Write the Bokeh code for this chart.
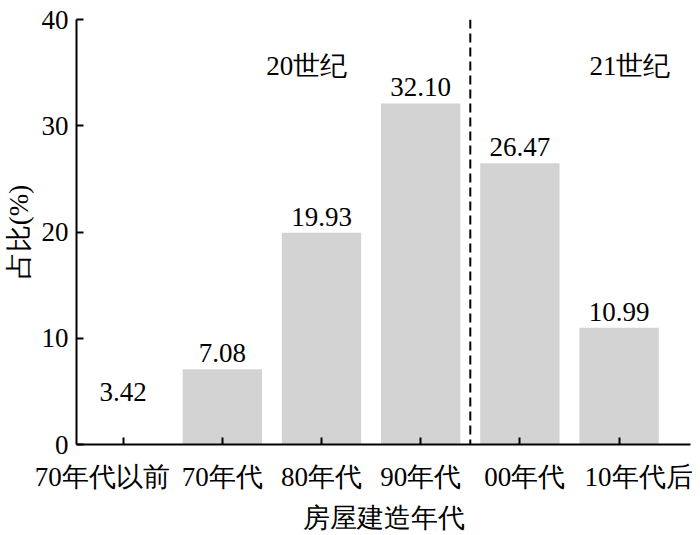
from bokeh.plotting import figure
from bokeh.models import Span, FixedTicker, ColumnDataSource, Label, LinearAxis
from bokeh.core.properties import value
from bokeh.embed import file_html
from bokeh.resources import INLINE

categories = ["70年代以前", "70年代", "80年代", "90年代", "00年代", "10年代后"]
shares = [3.42, 7.08, 19.93, 32.10, 26.47, 10.99]
bar_colors = ["#ffffff", "#d3d3d3", "#d3d3d3", "#d3d3d3", "#d3d3d3", "#d3d3d3"]
labels = ["3.42", "7.08", "19.93", "32.10", "26.47", "10.99"]
y_ticks = [0, 10, 20, 30, 40]
cat_label_shift = [-0.21, 0, 0, 0, 0.05, 0.23]

FONT = "Liberation Serif"
FS = "27px"

xs = list(range(len(categories)))
src = ColumnDataSource(dict(x=xs, top=shares, color=bar_colors, label=labels))

p = figure(width=692, height=535, output_backend="svg", toolbar_location=None,
           x_range=(-0.47, 5.72), y_range=(0, 40),
           min_border_left=70, min_border_right=2, min_border_top=19, min_border_bottom=90)
p.outline_line_color = None
p.grid.visible = False
p.background_fill_color = "white"

p.vbar(x="x", top="top", width=0.8, fill_color="color", line_color=None, source=src)
p.text(x="x", y="top", text="label", source=src, text_align="center", text_baseline="bottom",
       y_offset=-7, text_font=value(FONT), text_font_size=FS, text_color="black")

p.add_layout(Span(location=3.5, dimension="height", line_color="black", line_width=2,
                  line_dash="9 5"))
p.add_layout(Label(x=1.85, y=35.6, text="20世纪", text_align="center", text_baseline="middle",
                   text_font=FONT, text_font_size=FS, text_color="black"))
p.add_layout(Label(x=5.11, y=35.6, text="21世纪", text_align="center", text_baseline="middle",
                   text_font=FONT, text_font_size=FS, text_color="black"))

p.xaxis.ticker = FixedTicker(ticks=xs)
p.xaxis.major_label_text_font_size = "1px"
p.xaxis.major_label_text_color = None
p.xaxis.major_label_standoff = 0
p.yaxis.ticker = FixedTicker(ticks=y_ticks)
for ax in (p.xaxis, p.yaxis):
    ax.axis_line_width = 2
    ax.axis_line_color = "black"
    ax.major_tick_line_width = 2
    ax.major_tick_line_color = "black"
    ax.major_tick_in = 7
    ax.major_tick_out = 0
    ax.minor_tick_line_color = None
p.yaxis.major_label_text_font = FONT
p.yaxis.major_label_text_font_size = FS
p.yaxis.major_label_text_color = "black"
p.yaxis.major_label_standoff = 8
p.yaxis.axis_label = "占比(%)"
p.yaxis.axis_label_text_font = FONT
p.yaxis.axis_label_text_font_size = FS
p.yaxis.axis_label_text_font_style = "normal"
p.yaxis.axis_label_text_color = "black"
p.yaxis.axis_label_standoff = 5

label_pos = [x + s for x, s in zip(xs, cat_label_shift)]
cat_axis = LinearAxis(ticker=FixedTicker(ticks=label_pos),
                      major_label_overrides={pos: c for pos, c in zip(label_pos, categories)},
                      axis_line_color=None, major_tick_line_color=None, minor_tick_line_color=None,
                      major_label_text_font=FONT, major_label_text_font_size=FS,
                      major_label_text_color="black", major_label_standoff=11,
                      axis_label="房屋建造年代", axis_label_text_font=FONT,
                      axis_label_text_font_size=FS, axis_label_text_font_style="normal",
                      axis_label_text_color="black", axis_label_standoff=8)
p.add_layout(cat_axis, "below")

open("out.html", "w").write(file_html(p, INLINE))
